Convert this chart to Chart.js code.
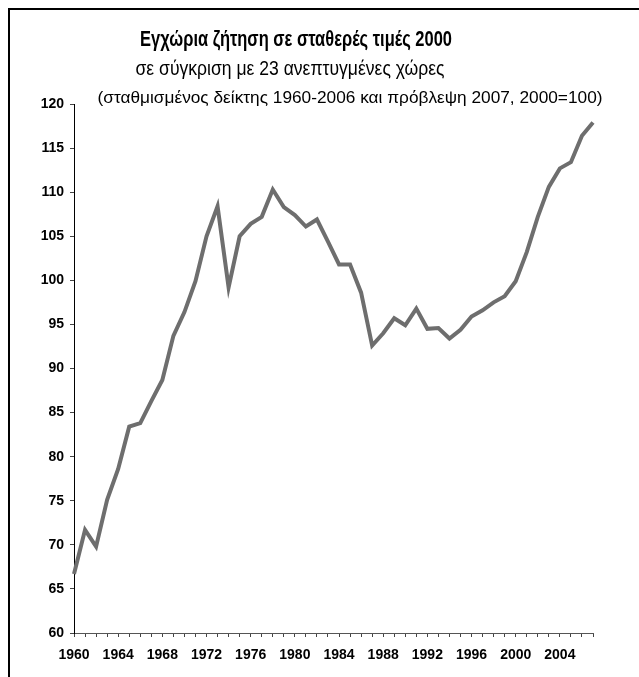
<!DOCTYPE html>
<html>
<head>
<meta charset="utf-8">
<script src="https://cdn.jsdelivr.net/npm/chart.js@4/dist/chart.umd.min.js"></script>
<style>
  html, body { margin: 0; padding: 0; background: #fff; }
  #wrap { position: relative; width: 639px; height: 677px; }
  #frame { position: absolute; left: 8px; top: 8px; right: -4px; bottom: -4px;
           border-left: 2px solid #000; border-top: 2px solid #000; }
  canvas { position: absolute; left: 0; top: 0; }
</style>
</head>
<body>
<div id="wrap">
  <div id="frame"></div>
  <canvas id="demand_chart" width="639" height="677"></canvas>
</div>
<script>
// titles
var title_main = 'Εγχώρια ζήτηση σε σταθερές τιμές 2000';
var title_sub = 'σε σύγκριση με 23 ανεπτυγμένες χώρες';
var title_note = '(σταθμισμένος δείκτης 1960-2006 και πρόβλεψη 2007, 2000=100)';

// years 1960-2007
var years = [];
for (var y = 1960; y <= 2007; y++) years.push(String(y));

// index values
var demand = [
  66.7, 71.7, 69.8, 75.1, 78.6, 83.4, 83.8, 86.3, 88.7, 93.7,   // 1960-69
  96.4, 99.9, 105.0, 108.4, 99.2, 105.0, 106.4, 107.2, 110.3, 108.3, // 1970-79
  107.4, 106.1, 106.9, 104.4, 101.8, 101.8, 98.6, 92.6, 94.0, 95.7,  // 1980-89
  94.9, 96.8, 94.5, 94.6, 93.4, 94.4, 95.9, 96.6, 97.5, 98.2,        // 1990-99
  99.9, 103.2, 107.2, 110.6, 112.7, 113.4, 116.4, 117.9              // 2000-07
];

var y_ticks = [60, 65, 70, 75, 80, 85, 90, 95, 100, 105, 110, 115, 120];

var sans = "'Liberation Sans', Arial, sans-serif";

// no condensed face installed, so squeeze the text sideways to the width it has in the original
function narrowText(ctx, txt, cx, by, font, w) {
  ctx.font = font;
  var k = w / ctx.measureText(txt).width;
  ctx.save();
  ctx.translate(cx, by);
  ctx.scale(k, 1);
  ctx.fillText(txt, 0, 0);
  ctx.restore();
}

// title text is drawn by hand so the last line can sit beside the 120 label
var titlePlugin = {
  id: 'titles',
  afterDraw: function(chart) {
    var ctx = chart.ctx;
    ctx.save();
    ctx.fillStyle = '#000';
    ctx.textAlign = 'center';
    ctx.textBaseline = 'alphabetic';
    narrowText(ctx, title_main, 296, 46, 'bold 22px ' + sans, 312);
    narrowText(ctx, title_sub, 290, 75, '21px ' + sans, 309);
    narrowText(ctx, title_note, 350, 103, '17px ' + sans, 505);
    ctx.restore();
  }
};

var demand_chart = new Chart(document.getElementById('demand_chart'), {
  type: 'line',
  data: {
    labels: years,
    datasets: [{
      label: 'Εγχώρια ζήτηση',
      data: demand,
      borderColor: '#6e6e6e',
      borderWidth: 4,
      pointRadius: 0,
      tension: 0,
      fill: false
    }]
  },
  options: {
    responsive: false,
    animation: false,
    layout: { padding: { top: 104, right: 46, left: 0, bottom: 0 } },
    plugins: { legend: { display: false }, tooltip: { enabled: false }, title: { display: false } },
    scales: {
      x: {
        type: 'category',
        offset: false,
        afterFit: function(s) { s.height = 44; },
        grid: { display: true, drawOnChartArea: false, drawTicks: true, tickLength: 4, color: '#444' },
        border: { display: true, color: '#555', width: 1 },
        ticks: {
          autoSkip: false,
          maxRotation: 0,
          padding: 10,
          color: '#000',
          font: { family: sans, size: 14, weight: 'bold' },
          callback: function(val, i) {
            var lab = this.getLabelForValue(val);
            return (Number(lab) % 4 === 0) ? lab : '';
          }
        }
      },
      y: {
        min: 60,
        max: 120,
        afterFit: function(s) { s.width = 74; },
        afterBuildTicks: function(s) { s.ticks = y_ticks.map(function(v) { return { value: v }; }); },
        grid: { display: true, drawOnChartArea: false, drawTicks: true, tickLength: 4, color: '#444' },
        border: { display: true, color: '#000', width: 1 },
        ticks: {
          padding: 6,
          color: '#000',
          font: { family: sans, size: 14, weight: 'bold' }
        }
      }
    }
  },
  plugins: [titlePlugin]
});
</script>
</body>
</html>
